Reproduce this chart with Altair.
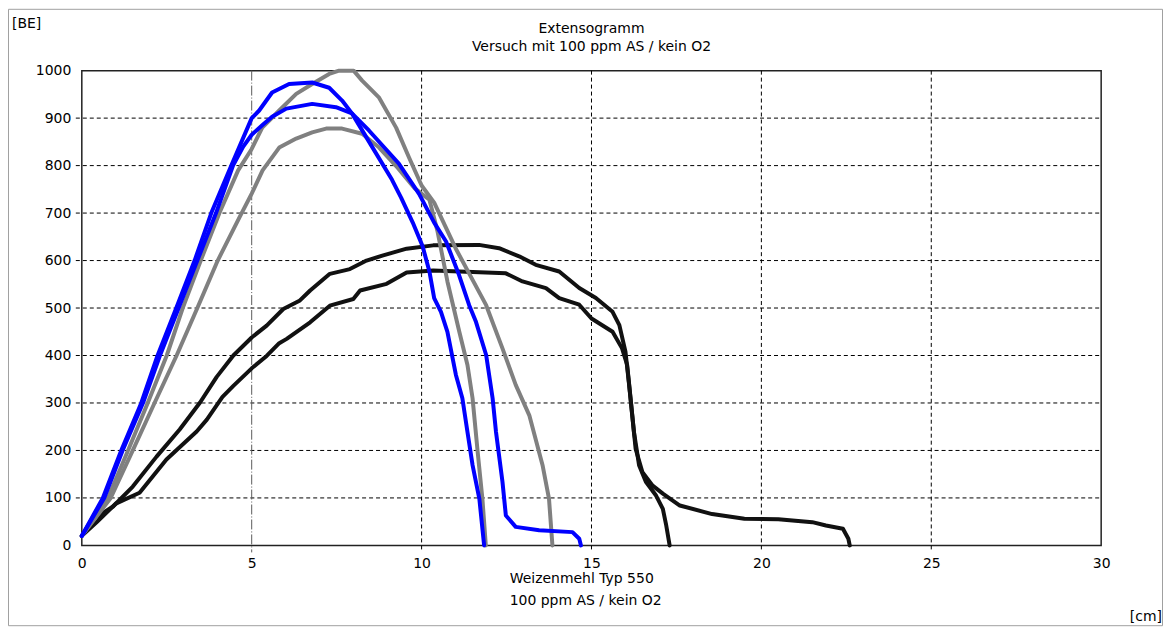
import altair as alt
import pandas as pd

# ---------------- data (x in cm, y in BE) ----------------
blue1_x = [0, 0.62, 1.16, 1.75, 2.23, 2.78, 3.32, 3.81, 4.4, 5.0, 5.22, 5.6, 6.1, 6.78, 7.28, 7.66, 7.95,
           8.54, 9.13, 9.4, 9.74, 10.03, 10.23, 10.37, 10.57, 10.76, 11.01, 11.2, 11.35, 11.5, 11.7, 11.84]
blue1_y = [20, 100, 200, 300, 400, 500, 600, 700, 800, 900, 916, 954, 972, 975, 964, 937, 910,
           840, 770, 732, 680, 630, 577, 521, 492, 450, 359, 310, 239, 169, 98, 0]

blue2_x = [0, 0.66, 1.2, 1.8, 2.3, 2.85, 3.4, 3.95, 4.45, 4.75, 5.0, 5.31, 5.6, 6.02, 6.78, 7.48, 7.95,
           8.45, 9.33, 9.93, 10.37, 10.72, 11.1, 11.4, 11.6, 11.9, 12.09, 12.19, 12.38, 12.48, 12.77,
           13.46, 14.44, 14.64, 14.69]
blue2_y = [20, 100, 200, 300, 400, 500, 600, 700, 800, 840, 865, 885, 903, 920, 930, 923, 910,
           874, 804, 740, 680, 640, 570, 506, 471, 401, 310, 239, 134, 63, 39,
           32, 28, 14, 0]

gray1_x = [0, 0.77, 1.36, 1.94, 2.5, 2.97, 3.5, 4.05, 4.6, 5.0, 5.31, 5.81, 6.31, 6.78, 7.28, 7.57, 8.0,
           8.25, 8.75, 9.25, 9.63, 10.0, 10.37, 11.0, 11.9, 12.38, 12.77, 13.17, 13.56, 13.75, 13.85]
gray1_y = [20, 100, 200, 300, 400, 500, 600, 700, 790, 835, 880, 916, 951, 972, 993, 1000, 1000,
           979, 943, 880, 817, 758, 722, 626, 506, 415, 338, 274, 169, 98, 0]

gray2_x = [0, 0.85, 1.5, 2.14, 2.79, 3.4, 4.0, 4.64, 5.0, 5.32, 5.81, 6.31, 6.78, 7.19, 7.66, 8.25,
           8.75, 9.3, 9.8, 10.23, 10.47, 10.76, 11.11, 11.35, 11.5, 11.65, 11.79, 11.89]
gray2_y = [20, 100, 200, 300, 400, 500, 600, 691, 741, 790, 838, 857, 870, 878, 878, 867,
           838, 795, 752, 728, 661, 556, 450, 380, 310, 197, 98, 0]

black1_x = [0, 0.33, 0.92, 1.5, 2.2, 2.88, 3.48, 3.97, 4.46, 5.0, 5.44, 5.93, 6.42, 6.72, 7.3, 7.89,
            8.38, 8.87, 9.56, 10.34, 11.69, 12.28, 12.87, 13.36, 14.05, 14.64, 15.13, 15.62, 15.82,
            16.0, 16.1, 16.2, 16.3, 16.5, 16.8, 17.1, 17.6, 18.55, 19.5, 20.5, 21.5, 21.9, 22.4,
            22.56, 22.6]
black1_y = [20, 55, 82, 124, 187, 244, 301, 355, 400, 438, 463, 498, 516, 537, 572, 582,
            600, 611, 625, 632, 633, 626, 609, 591, 577, 542, 521, 492, 464,
            408, 343, 273, 203, 154, 126, 109, 84, 66, 56, 55, 49, 42, 35,
            14, 0]

black2_x = [0, 0.45, 1.0, 1.7, 2.49, 3.38, 3.68, 4.14, 4.46, 5.0, 5.44, 5.81, 6.03, 6.72, 7.3, 7.99,
            8.19, 8.97, 9.56, 10.34, 12.48, 12.97, 13.66, 14.05, 14.64, 15.0, 15.62, 15.9, 16.05,
            16.15, 16.25, 16.4, 16.6, 16.9, 17.1, 17.2, 17.3]
black2_y = [20, 50, 88, 111, 181, 240, 265, 313, 336, 373, 399, 426, 435, 470, 505, 519,
            537, 551, 575, 579, 573, 556, 542, 521, 507, 478, 450, 415, 380,
            310, 239, 169, 134, 105, 77, 42, 0]

x_ticks = [0, 5, 10, 15, 20, 25, 30]
y_ticks = [0, 100, 200, 300, 400, 500, 600, 700, 800, 900, 1000]
grid_x = [10, 15, 20, 25]
grid_y = [100, 200, 300, 400, 500, 600, 700, 800, 900]
marker_x = [5]

curves = [
    ("black1", black1_x, black1_y, "black"),
    ("black2", black2_x, black2_y, "black"),
    ("gray1", gray1_x, gray1_y, "gray"),
    ("gray2", gray2_x, gray2_y, "gray"),
    ("blue1", blue1_x, blue1_y, "blue"),
    ("blue2", blue2_x, blue2_y, "blue"),
]
rows = []
for name, xs, ys, fam in curves:
    for i, (a, b) in enumerate(zip(xs, ys)):
        rows.append({"curve": name, "fam": fam, "x": a, "y": b, "i": i})
df = pd.DataFrame(rows)

# ---------------- chart ----------------
W, H = 1022, 476
FONT = "DejaVu Sans"
XS = alt.Scale(domain=[0, 30], nice=False, zero=False)
YS = alt.Scale(domain=[0, 1000], nice=False, zero=False)
one = pd.DataFrame({"a": [0]})

x_axis = alt.Axis(values=x_ticks, title=None, grid=False, domain=False, ticks=False, tickSize=0,
                  labelPadding=11, labelFont=FONT, labelFontSize=14, labelColor="black",
                  labelFlush=False, labelOverlap=False, format="d")
y_axis = alt.Axis(values=y_ticks, title=None, grid=False, domain=False, ticks=False, tickSize=0,
                  labelPadding=11, labelFont=FONT, labelFontSize=14, labelColor="black",
                  labelFlush=False, labelOverlap=False, format="d")

frame = alt.Chart(one).mark_rect(fill="white", fillOpacity=0, stroke="#a0a0a0", strokeWidth=1).encode(
    x=alt.value(-73.5), x2=alt.value(1083.5), y=alt.value(-61.5), y2=alt.value(556.5))

hgrid = alt.Chart(pd.DataFrame({"v": grid_y})).mark_rule(
    color="black", strokeWidth=1, strokeDash=[4, 3]).encode(
    y=alt.Y("v:Q", scale=YS, axis=y_axis), x=alt.value(-6), x2=alt.value(W))

vgrid = alt.Chart(pd.DataFrame({"v": grid_x})).mark_rule(
    color="black", strokeWidth=1, strokeDash=[4, 3]).encode(
    x=alt.X("v:Q", scale=XS, axis=x_axis), y=alt.value(0), y2=alt.value(H + 6))

marker = alt.Chart(pd.DataFrame({"v": marker_x})).mark_rule(
    color="#5a5a5a", strokeWidth=1, strokeDash=[10, 2, 1, 2]).encode(
    x=alt.X("v:Q", scale=XS, axis=x_axis), y=alt.value(0), y2=alt.value(H + 7))


def family(fam, color, width):
    return alt.Chart(df[df.fam == fam]).mark_line(
        color=color, strokeWidth=width, strokeJoin="round", strokeCap="round").encode(
        x=alt.X("x:Q", scale=XS, axis=x_axis),
        y=alt.Y("y:Q", scale=YS, axis=y_axis),
        detail="curve:N",
        order="i:Q",
    )


def label(text, x, y, align="left"):
    return alt.Chart(one).mark_text(
        text=text, font=FONT, fontSize=14, color="black", align=align, baseline="alphabetic").encode(
        x=alt.value(x), y=alt.value(y))


chart = alt.layer(
    frame, hgrid, vgrid, marker,
    family("black", "#111111", 4),
    family("gray", "#808080", 4),
    family("blue", "#0000ff", 4),
    label("[BE]", -70, -43),
    label("Extensogramm", W / 2, -38, "center"),
    label("Versuch mit 100 ppm AS / kein O2", W / 2, -20, "center"),
    label("Weizenmehl Typ 550", 429, 514),
    label("100 ppm AS / kein O2", 429, 536),
    label("[cm]", 1083, 552, "right"),
).properties(
    width=W, height=H,
    padding={"left": 74, "top": 62, "right": 64, "bottom": 82},
    autosize=alt.AutoSizeParams(type="none"),
).configure(
    background="white",
    view=alt.ViewConfig(stroke="#222222", strokeWidth=1.5),
)

chart.save("out.html", embed_options={"renderer": "svg", "actions": False})
